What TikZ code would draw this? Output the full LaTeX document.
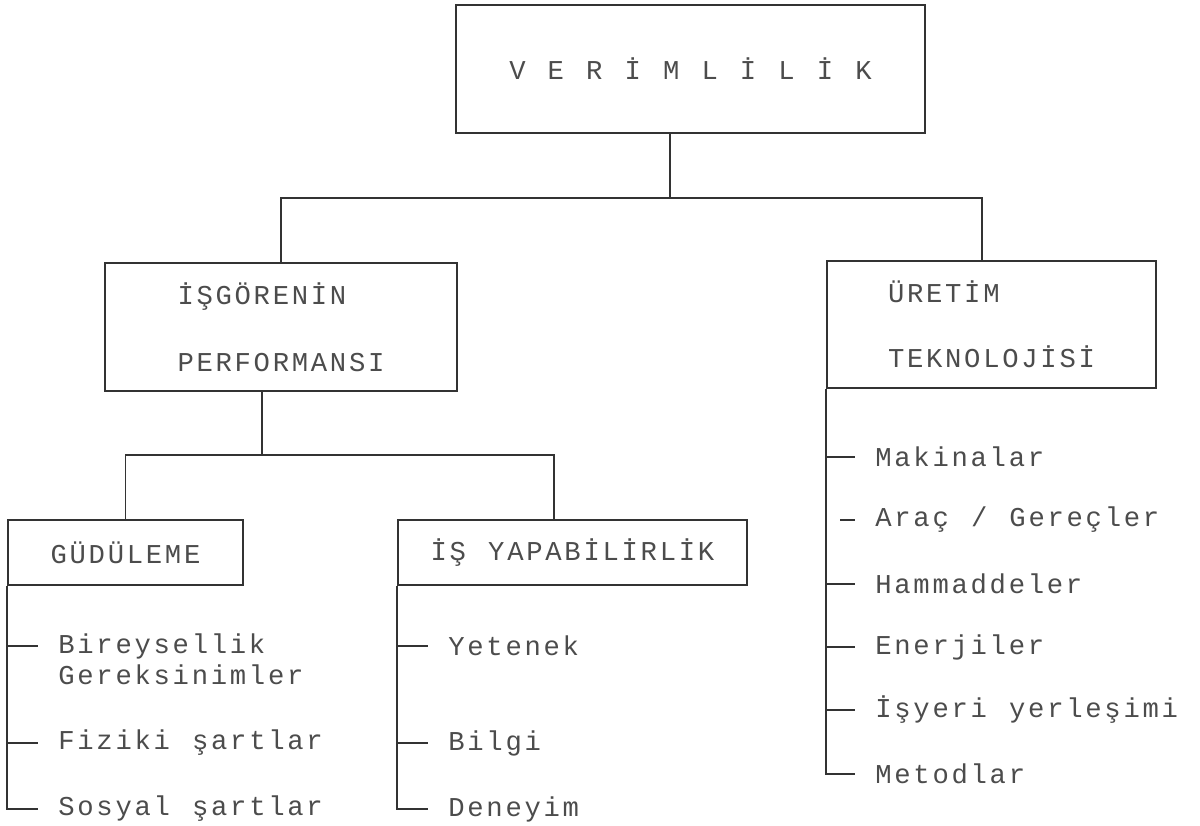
\documentclass[tikz,border=0pt]{standalone}
\usepackage{fontspec}
\setmonofont[LetterSpace=10, WordSpace=1.16]{Liberation Mono}
\begin{document}
\begin{tikzpicture}[
x=0.02cm, y=-0.02cm,
every node/.style={
font=\ttfamily\fontsize{15.5}{17}\selectfont,
text=black!70,
inner sep=0pt
},
box/.style={
draw=black!80,
line width=0.9pt,
align=left
},
item/.style={
anchor=west
},
line/.style={
draw=black!80,
line width=0.9pt
}
]

\useasboundingbox (0,0) rectangle (1200,825);

\node[box, minimum width=9.38cm, minimum height=2.56cm] (verim) at (690.5,69)
{V E R İ M L İ L İ K};

\node[box, minimum width=7.04cm, minimum height=2.56cm] (isgoren) at (281,327)
{İŞGÖRENİN\\[0.74cm]PERFORMANSI};

\node[box, minimum width=6.58cm, minimum height=2.54cm] (uretim) at (991.5,324.5)
{ÜRETİM\\[0.7cm]TEKNOLOJİSİ};

\node[box, minimum width=4.7cm, minimum height=1.3cm] (gudu) at (125.5,552.5)
{GÜDÜLEME};

\node[box, minimum width=6.98cm, minimum height=1.3cm] (isyap) at (572.5,552.5)
{İŞ YAPABİLİRLİK};

\node[item] (birey) at (58,646) {Bireysellik};
\node[item] (gerek) at (58,675) {Gereksinimler};
\node[item] (fiziki) at (58,743) {Fiziki şartlar};
\node[item] (sosyal) at (58,809) {Sosyal şartlar};

\node[item] (yetenek) at (448,646) {Yetenek};
\node[item] (bilgi) at (448,743) {Bilgi};
\node[item] (deneyim) at (448,809) {Deneyim};

\node[item] (makina) at (875,457) {Makinalar};
\node[item] (arac) at (875,520) {Araç / Gereçler};
\node[item] (hamma) at (875,584) {Hammaddeler};
\node[item] (enerji) at (875,647) {Enerjiler};
\node[item] (isyeri) at (875,710) {İşyeri yerleşimi};
\node[item] (metod) at (875,774) {Metodlar};

\coordinate (bus1) at (670,198);
\coordinate (bus2) at (262,455);

\draw[line] ([xshift=-0.41cm]verim.south) -- (bus1);
\draw[line] (isgoren.north) |- (bus1) -| ([xshift=-0.19cm]uretim.north);

\draw[line] ([xshift=-0.38cm]isgoren.south) -- (bus2);
\draw[line] (gudu.north) |- (bus2) -| ([xshift=-0.37cm]isyap.north);

\draw[line] (gudu.south west) |- ([xshift=-0.4cm]sosyal.west);
\draw[line] (gudu.south west |- birey.west) -- ([xshift=-0.4cm]birey.west);
\draw[line] (gudu.south west |- fiziki.west) -- ([xshift=-0.4cm]fiziki.west);

\draw[line] (isyap.south west) |- ([xshift=-0.4cm]deneyim.west);
\draw[line] (isyap.south west |- yetenek.west) -- ([xshift=-0.4cm]yetenek.west);
\draw[line] (isyap.south west |- bilgi.west) -- ([xshift=-0.4cm]bilgi.west);

\draw[line] (uretim.south west) |- ([xshift=-0.4cm]metod.west);
\draw[line] (uretim.south west |- makina.west) -- ([xshift=-0.4cm]makina.west);
\draw[line] ([xshift=-0.7cm]arac.west) -- ([xshift=-0.4cm]arac.west);
\draw[line] (uretim.south west |- hamma.west) -- ([xshift=-0.4cm]hamma.west);
\draw[line] (uretim.south west |- enerji.west) -- ([xshift=-0.4cm]enerji.west);
\draw[line] (uretim.south west |- isyeri.west) -- ([xshift=-0.4cm]isyeri.west);

\end{tikzpicture}
\end{document}
